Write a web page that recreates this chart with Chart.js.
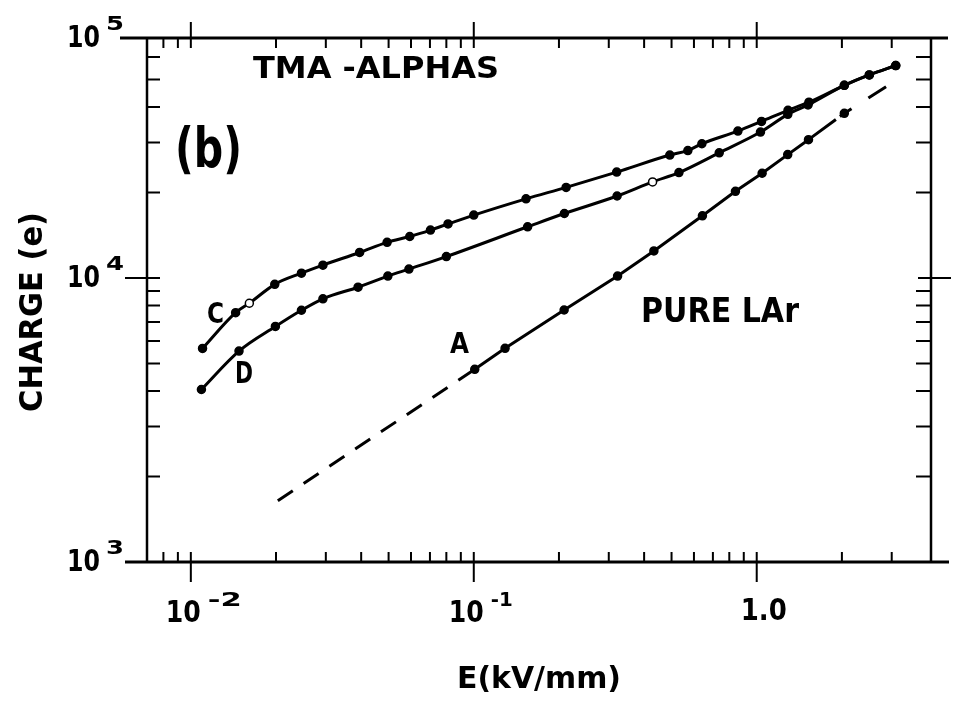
<!DOCTYPE html>
<html>
<head>
<meta charset="utf-8">
<script src="https://cdn.jsdelivr.net/npm/chart.js@4/dist/chart.umd.min.js"></script>
<style>
  html, body { margin: 0; padding: 0; background: #fff; }
  #wrap { width: 953px; height: 710px; }
</style>
</head>
<body>
<div id="wrap"><canvas id="c" width="953" height="710"></canvas></div>
<script>
// Curve C: collected charge (electrons) vs drift field E (kV/mm)
const fieldC  = [0.011, 0.0144, 0.0161, 0.0198, 0.0246, 0.0293, 0.0395, 0.0494, 0.0594, 0.0703, 0.0811, 0.1,
                 0.153, 0.212, 0.32, 0.493, 0.571, 0.64, 0.858, 1.04, 1.29, 1.53, 2.04, 2.5, 3.1];
const chargeC = [5650, 7550, 8150, 9500, 10400, 11100, 12300, 13350, 14000, 14750, 15500, 16650,
                 19000, 20850, 23600, 27100, 28100, 29700, 32900, 35600, 38950, 41600, 47700, 51900, 56000];
const openC   = [2];

// Curve D
const fieldD  = [0.0109, 0.0148, 0.0199, 0.0246, 0.0293, 0.039, 0.0497, 0.059, 0.08, 0.155, 0.209, 0.321,
                 0.4285, 0.531, 0.737, 1.031, 1.288, 1.518, 2.04, 2.5, 3.1];
const chargeD = [4050, 5530, 6750, 7700, 8450, 9280, 10160, 10750, 11900, 15150, 16870, 19440,
                 21800, 23500, 27600, 32650, 37700, 40700, 47700, 51900, 56000];
const openD   = [12];

// Curve A: pure liquid argon
const fieldA  = [0.1008, 0.129, 0.2086, 0.3223, 0.4331, 0.6428, 0.841, 1.045, 1.287, 1.524];
const chargeA = [4770, 5655, 7715, 10160, 12450, 16560, 20200, 23380, 27200, 30700];

// Dashed extrapolations of curve A
const fieldALow   = [0.0203, 0.1008];
const chargeALow  = [1644, 4770];
const fieldAHigh  = [1.524, 2.04, 2.865];
const chargeAHigh = [30700, 38010, 47160];

// Axis ticks and their labels (base, exponent)
const xTicks     = [0.01, 0.1, 1];
const xTickText  = [['10', '-2'], ['10', '-1'], ['1.0', '']];
const yTicks     = [1000, 10000, 100000];
const yTickText  = [['10', '3'], ['10', '4'], ['10', '5']];

const FONT = '"DejaVu Sans", sans-serif';

function pts(xs, ys) { return xs.map((x, i) => ({ x: x, y: ys[i] })); }
function fills(n, open) { return Array.from({ length: n }, (_, i) => open.includes(i) ? '#fff' : '#000'); }

// draw text squeezed/stretched to a given width, left-aligned on a baseline
function fitText(ctx, str, left, baseline, size, width) {
  ctx.save();
  ctx.font = 'bold ' + size + 'px ' + FONT;
  ctx.textAlign = 'left';
  ctx.textBaseline = 'alphabetic';
  const w = ctx.measureText(str).width;
  ctx.translate(left, baseline);
  ctx.scale(width ? width / w : 1, 1);
  ctx.fillText(str, 0, 0);
  ctx.restore();
}

const framePlugin = {
  id: 'frame',
  beforeDatasetsDraw(chart) {
    const ctx = chart.ctx, a = chart.chartArea;
    const xs = chart.scales.x, ys = chart.scales.y;
    ctx.save();
    ctx.strokeStyle = '#000';
    ctx.lineCap = 'butt';

    // frame, with the horizontal axes running past the corners
    ctx.lineWidth = 3;
    ctx.beginPath();
    ctx.moveTo(a.left - 27, a.top); ctx.lineTo(a.right + 17, a.top);
    ctx.moveTo(a.left - 22, a.bottom); ctx.lineTo(a.right + 18, a.bottom);
    ctx.stroke();
    ctx.lineWidth = 2.5;
    ctx.beginPath();
    ctx.moveTo(a.left, a.top); ctx.lineTo(a.left, a.bottom);
    ctx.moveTo(a.right, a.top); ctx.lineTo(a.right, a.bottom);
    ctx.stroke();

    // logarithmic ticks
    ctx.lineWidth = 2;
    ctx.beginPath();
    for (let k = -3; k <= 1; k++) {
      for (let m = 1; m <= 9; m++) {
        const v = m * Math.pow(10, k);
        if (v < xs.min || v > xs.max) continue;
        const p = xs.getPixelForValue(v);
        if (p < a.left + 4 || p > a.right - 4) continue;
        if (m === 1) {
          ctx.moveTo(p, a.top - 16); ctx.lineTo(p, a.top + 10);
          ctx.moveTo(p, a.bottom + 20); ctx.lineTo(p, a.bottom - 10);
        } else {
          ctx.moveTo(p, a.top); ctx.lineTo(p, a.top + 10);
          ctx.moveTo(p, a.bottom); ctx.lineTo(p, a.bottom - 10);
        }
      }
    }
    for (let k = 3; k <= 5; k++) {
      for (let m = 1; m <= 9; m++) {
        const v = m * Math.pow(10, k);
        if (v < ys.min || v > ys.max) continue;
        const p = ys.getPixelForValue(v);
        if (p < a.top + 4 || p > a.bottom - 4) continue;
        if (m === 1) {
          ctx.moveTo(a.left - 22, p); ctx.lineTo(a.left + 13, p);
          ctx.moveTo(a.right - 13, p); ctx.lineTo(a.right + 20, p);
        } else {
          ctx.moveTo(a.left, p); ctx.lineTo(a.left + 13, p);
          ctx.moveTo(a.right, p); ctx.lineTo(a.right - 15, p);
        }
      }
    }
    ctx.stroke();
    ctx.restore();
  },
  afterDatasetsDraw(chart) {
    const ctx = chart.ctx, a = chart.chartArea;
    const xs = chart.scales.x, ys = chart.scales.y;
    ctx.save();
    ctx.fillStyle = '#000';

    // x tick labels
    xTicks.forEach((v, i) => {
      const p = xs.getPixelForValue(v);
      const [base, exp] = xTickText[i];
      if (exp) {
        fitText(ctx, base, p - 25, a.bottom + 60, 31, 35);
        fitText(ctx, exp, p + 17, a.bottom + 44, 20, exp === '-1' ? 22 : 34);
      } else {
        fitText(ctx, base, p - 16, a.bottom + 58, 31, 46);
      }
    });

    // y tick labels
    yTicks.forEach((v, i) => {
      const p = Math.min(Math.max(ys.getPixelForValue(v), a.top), a.bottom);
      const [base, exp] = yTickText[i];
      fitText(ctx, base, a.left - 80, p + 9, 31, 33);
      fitText(ctx, exp, a.left - 41, p - 8, 20, 18);
    });

    // axis titles
    fitText(ctx, 'E(kV/mm)', 457, 688, 30, 164);
    ctx.save();
    ctx.translate(42, 412);
    ctx.rotate(-Math.PI / 2);
    fitText(ctx, 'CHARGE (e)', 0, 0, 32, 200);
    ctx.restore();

    // annotations
    fitText(ctx, 'TMA -ALPHAS', 253, 78, 31, 246);
    fitText(ctx, '(b)', 175, 167, 55, 67);
    fitText(ctx, 'C', 207, 323, 28, 17);
    fitText(ctx, 'D', 235, 383, 31, 18);
    fitText(ctx, 'A', 450, 353, 29, 19);
    fitText(ctx, 'PURE LAr', 641, 322, 33, 158);
    ctx.restore();
  }
};

const marker = { pointRadius: 4, pointBorderColor: '#000', pointBorderWidth: 1.5, pointHoverRadius: 4 };

new Chart(document.getElementById('c'), {
  type: 'line',
  data: {
    datasets: [
      Object.assign({
        label: 'C', data: pts(fieldC, chargeC),
        borderColor: '#000', borderWidth: 3, fill: false,
        cubicInterpolationMode: 'monotone',
        pointBackgroundColor: fills(fieldC.length, openC)
      }, marker),
      Object.assign({
        label: 'D', data: pts(fieldD, chargeD),
        borderColor: '#000', borderWidth: 3, fill: false,
        cubicInterpolationMode: 'monotone',
        pointBackgroundColor: fills(fieldD.length, openD)
      }, marker),
      Object.assign({
        label: 'A', data: pts(fieldA, chargeA),
        borderColor: '#000', borderWidth: 3, fill: false, tension: 0,
        pointBackgroundColor: '#000'
      }, marker),
      {
        label: 'A (extrapolated, low field)', data: pts(fieldALow, chargeALow),
        borderColor: '#000', borderWidth: 3, fill: false, tension: 0,
        borderDash: [18, 13], pointRadius: 0, pointHoverRadius: 0
      },
      {
        label: 'A (extrapolated, high field)', data: pts(fieldAHigh, chargeAHigh),
        borderColor: '#000', borderWidth: 3, fill: false, tension: 0,
        borderDash: [34, 5, 14, 20, 22, 40],
        pointRadius: [0, 4, 0], pointHoverRadius: 0,
        pointBackgroundColor: '#000', pointBorderColor: '#000', pointBorderWidth: 1.5
      }
    ]
  },
  options: {
    responsive: false,
    animation: false,
    devicePixelRatio: 1,
    layout: { padding: { left: 147, right: 22, top: 38, bottom: 148 } },
    plugins: { legend: { display: false }, tooltip: { enabled: false } },
    scales: {
      x: { type: 'logarithmic', min: 0.007, max: 4.13, display: false },
      y: { type: 'logarithmic', min: 1000, max: 70000, display: false }
    }
  },
  plugins: [framePlugin]
});
</script>
</body>
</html>
